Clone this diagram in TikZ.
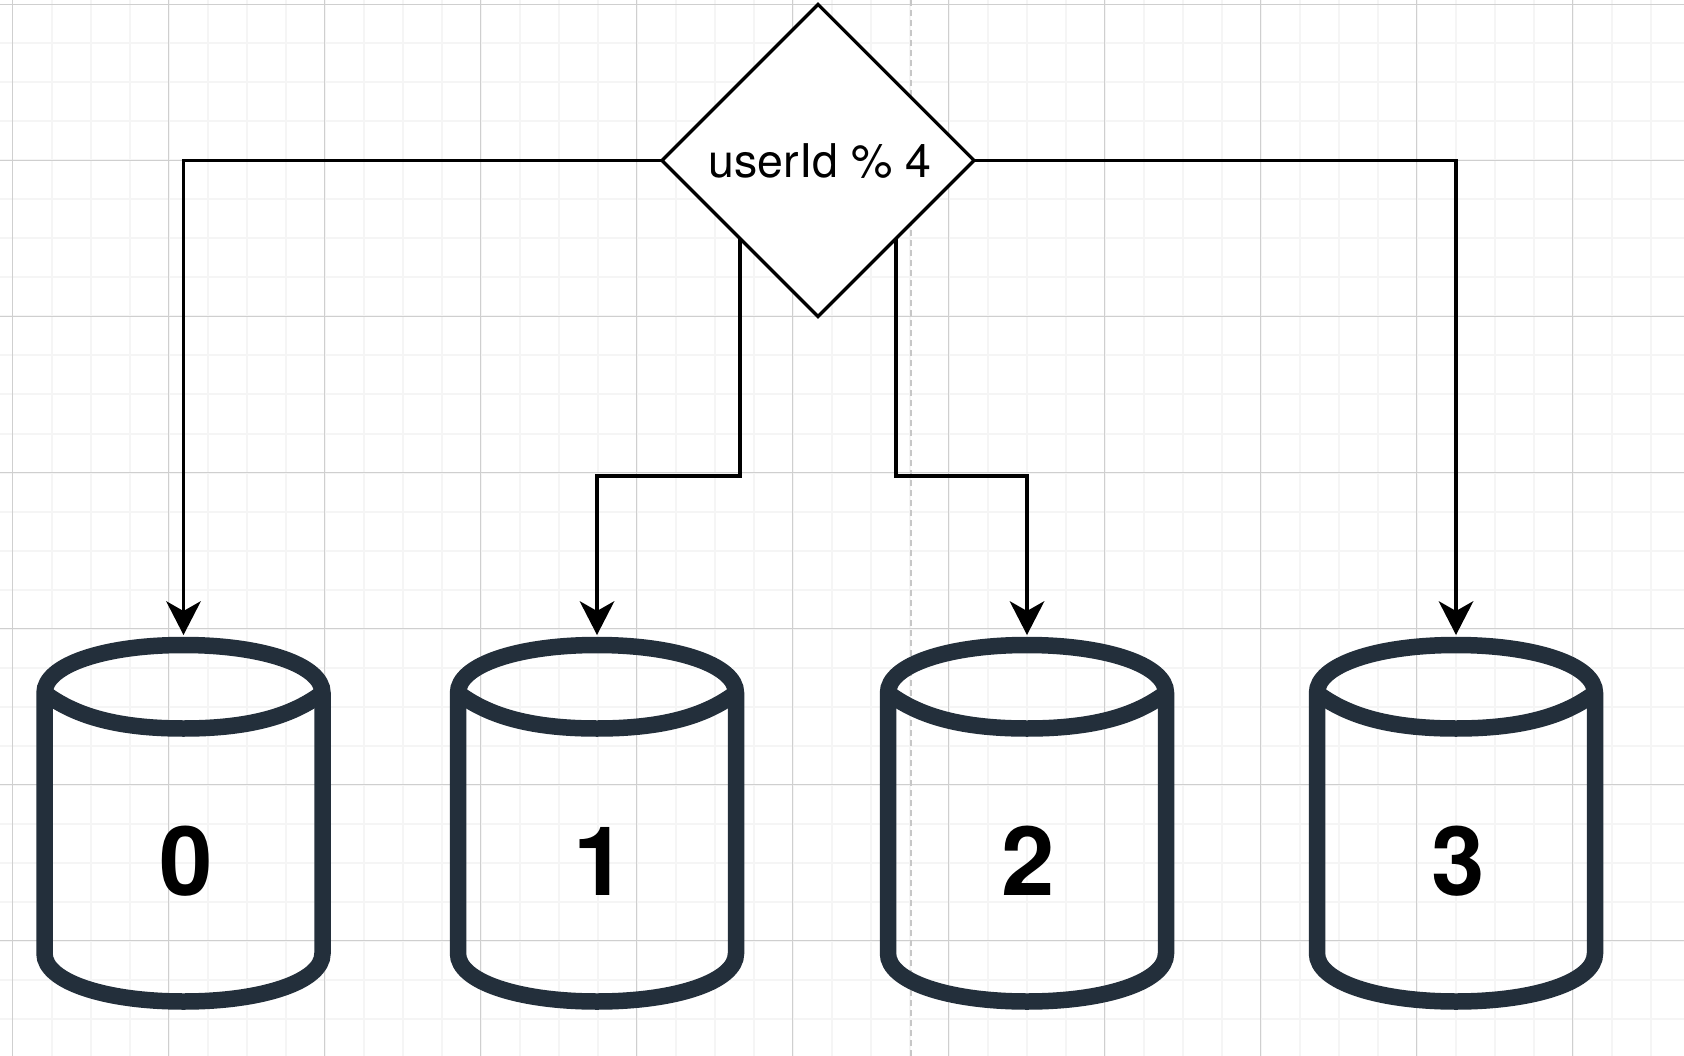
\documentclass[tikz,border=0pt]{standalone}
\usepackage{fontspec}
\usepackage{xcolor}
\setmainfont{TeX Gyre Heros}
\usetikzlibrary{calc}
\usetikzlibrary{arrows.meta}
\usetikzlibrary{shapes.geometric}
\definecolor{drumcolor}{HTML}{232F3B}
\tikzset{
  minorline/.style={color=black!4, line width=2pt},
  majorline/.style={color=black!19, line width=1.5pt},
  pagebreak/.style={color=black!22, line width=1.5pt, dash pattern=on 6pt off 4pt},
  decision/.style={diamond, aspect=1, draw=black, fill=white, line width=3.2pt, inner sep=0pt, outer sep=0pt, minimum width=312pt, minimum height=312pt, text height=35pt, text depth=0pt, font=\fontsize{46.5}{46.5}\selectfont},
  link/.style={draw=black, line width=3.2pt, shorten >=10pt, -{Stealth[length=34pt, width=35pt, inset=10pt, line width=0pt]}},
  drumbox/.style={inner sep=0pt, outer sep=0pt, minimum width=278pt, minimum height=356.5pt},
  drumline/.style={draw=drumcolor, line width=16.5pt},
  drumtext/.style={inner sep=0pt, anchor=base, font=\fontsize{96}{96}\selectfont\bfseries}
}
\begin{document}
\begin{tikzpicture}[x=1pt, y=-1pt]
  \useasboundingbox (0,0) rectangle (1684,1056);
  \fill[white] (0,0) rectangle (1684,1056);
  \foreach \k in {1,...,42} {
    \draw[minorline] ({12.5+39*\k},0) -- ({12.5+39*\k},1056);
  }
  \foreach \k in {1,...,27} {
    \draw[minorline] (0,{4.5+39*\k}) -- (1684,{4.5+39*\k});
  }
  \foreach \k in {0,...,10} {
    \draw[majorline] ({12.5+156*\k},0) -- ({12.5+156*\k},1056);
  }
  \foreach \k in {0,...,6} {
    \draw[majorline] (0,{4.5+156*\k}) -- (1684,{4.5+156*\k});
  }
  \draw[pagebreak] (911,0) -- (911,1056);

  \node[decision] (dia) at (818,160.5) {\hspace*{4pt}userId \% 4};

  \foreach \x/\n/\dx in {183.5/0/2.5, 597/1/3, 1027/2/1.5, 1456/3/2} {
    \node[drumbox] (db\n) at (\x,823.25) {};
    \node[drumtext] (label\n) at (\x+\dx,895) {\n};
    \begin{scope}[shift={(db\n.north west)}]
      \draw[drumline] (0,48) .. controls (0,20) and (60,0) .. (139,0)
        .. controls (218,0) and (278,20) .. (278,48)
        -- (278,308.5) .. controls (278,336.5) and (218,356.5) .. (139,356.5)
        .. controls (60,356.5) and (0,336.5) .. (0,308.5) -- cycle;
      \draw[drumline] (0,48) .. controls (28,69) and (68,83.5) .. (139,83.5)
        .. controls (210,83.5) and (250,69) .. (278,48);
    \end{scope}
  }

  \draw[link] (dia.west) -| (db0.north);
  \draw[link] (dia.east) -| (db3.north);
  \draw[link] (dia.south west) -- ++(0,237.5) -| (db1.north);
  \draw[link] (dia.south east) -- ++(0,237.5) -| (db2.north);
\end{tikzpicture}
\end{document}
